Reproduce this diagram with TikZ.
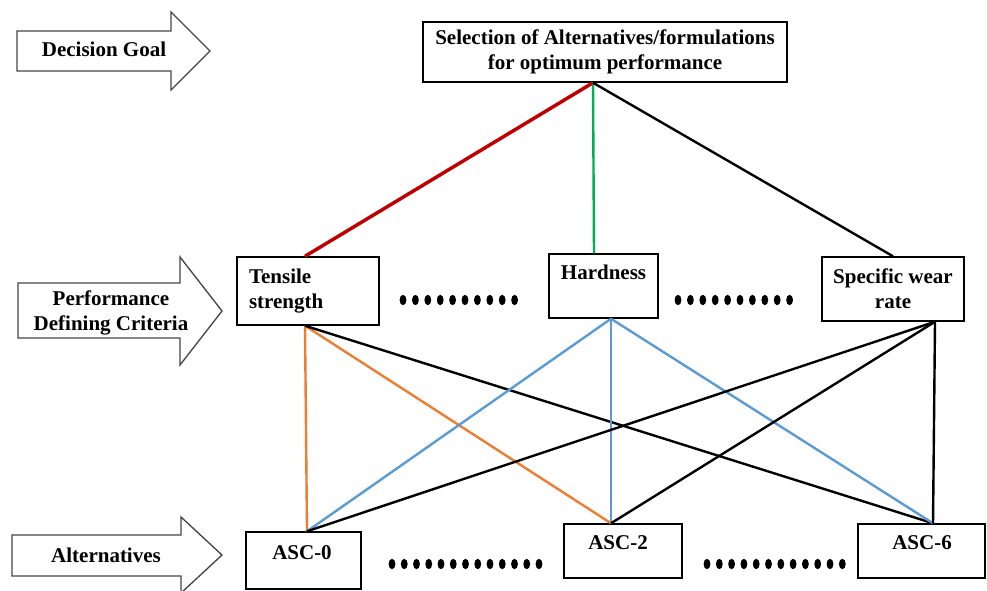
\documentclass[tikz,border=0pt]{standalone}
\usepackage{fontspec}
\setmainfont{Liberation Serif}
\usetikzlibrary{calc}

\definecolor{linkred}{RGB}{192,0,0}
\definecolor{linkgreen}{RGB}{0,176,80}
\definecolor{linkorange}{RGB}{237,125,49}
\definecolor{linkblue}{RGB}{91,155,213}
\definecolor{arrowgray}{RGB}{70,70,70}

\tikzset{
  txt/.style={inner sep=0.75pt, align=center, font=\bfseries\fontsize{15.75}{18.75}\selectfont},
  box/.style={txt, draw=black, line width=1.1pt, fill=white, inner sep=0pt},
  blockarrow/.style={draw=arrowgray, line width=1pt, fill=white, line join=miter},
  link/.style={line width=1.8pt},
}

\begin{document}
\begin{tikzpicture}[x=0.75pt,y=0.75pt,yscale=-1,xscale=1]
\useasboundingbox (0,0) rectangle (987,590);
\clip (0,0) rectangle (987,590);

%Shape: Right Arrow
\draw [blockarrow] (17,31) -- (171,31) -- (171,12) -- (210,51) -- (171,90) -- (171,71) -- (17,71) -- cycle ;
\node [txt] (goalLbl) at (104,49) {Decision Goal};
%Shape: Right Arrow
\draw [blockarrow] (18,283) -- (180,283) -- (180,257) -- (222,311) -- (180,365) -- (180,338) -- (18,338) -- cycle ;
\node [txt] (critLbl) at (111,313) {Performance\\Defining Criteria};
%Shape: Right Arrow
\draw [blockarrow] (12,535) -- (181,535) -- (181,517) -- (222,555) -- (181,593) -- (181,576) -- (12,576) -- cycle ;
\node [txt] (altLbl) at (106,555) {Alternatives};

%Shape: Rectangle
\node [box, minimum width=273pt, minimum height=45pt] (goal) at (605,52) {Selection of Alternatives/formulations\\for optimum performance};
\node [box, minimum width=106.5pt, minimum height=51pt, text width=88.5pt, align=left] (tens) at (308,291) {Tensile\\strength};
\node [box, minimum width=81.75pt, minimum height=48pt] (hard) at (603.5,286) {};
\node [txt] (hardT) at (603.5,272) {Hardness};
\node [box, minimum width=106.5pt, minimum height=48pt] (wear) at (893,289) {Specific wear\\rate};
\node [box, minimum width=86.25pt, minimum height=42.75pt] (asc0) at (303.5,560.5) {};
\node [txt] (asc0T) at (302,553) {ASC-0};
\node [box, minimum width=88.5pt, minimum height=40.5pt] (asc2) at (623,551) {};
\node [txt] (asc2T) at (618,543) {ASC-2};
\node [box, minimum width=95.25pt, minimum height=40.5pt] (asc6) at (921.5,551) {};
\node [txt] (asc6T) at (922,543) {ASC-6};

%Straight Lines
\draw [link, linkred, line width=2.6pt] ($(goal.south)+(-12,0)$) -- ($(tens.north)+(-3,0)$) ;
\draw [link, linkgreen] ($(goal.south)+(-12,0)$) -- ($(hard.north)+(-9.5,0)$) ;
\draw [link, black] ($(goal.south)+(-12,0)$) -- (wear.north) ;
%Straight Lines
\draw [link, linkorange] ($(tens.south)+(-3,0)$) -- ($(asc0.north)+(3.5,0)$) ;
\draw [link, linkorange] ($(tens.south)+(-3,0)$) -- ($(asc2.north)+(-12,0)$) ;
\draw [link, black] ($(tens.south)+(-3,0)$) -- ($(asc6.north)+(11.5,0)$) ;
%Straight Lines
\draw [link, linkblue] ($(hard.south)+(7.5,0)$) -- ($(asc0.north)+(3.5,0)$) ;
\draw [link, linkblue] ($(hard.south)+(7.5,0)$) -- ($(asc2.north)+(-12,0)$) ;
\draw [link, linkblue] ($(hard.south)+(7.5,0)$) -- ($(asc6.north)+(11.5,0)$) ;
%Straight Lines
\draw [link, black] ($(wear.south)+(42,0)$) -- ($(asc0.north)+(3.5,0)$) ;
\draw [link, black] ($(wear.south)+(42,0)$) -- ($(asc2.north)+(-12,0)$) ;
\draw [link, black] ($(wear.south)+(42,0)$) -- ($(asc6.north)+(11.5,0)$) ;

%Dots
\foreach \i in {0,...,9} \fill ({403+\i*12.4},300) ellipse (3.4 and 5.2) ;
\foreach \i in {0,...,9} \fill ({678+\i*12.4},300) ellipse (3.4 and 5.2) ;
\foreach \i in {0,...,12} \fill ({392+\i*12.25},564) ellipse (3.4 and 5.2) ;
\foreach \i in {0,...,11} \fill ({707+\i*12.3},564) ellipse (3.4 and 5.2) ;
\end{tikzpicture}
\end{document}
